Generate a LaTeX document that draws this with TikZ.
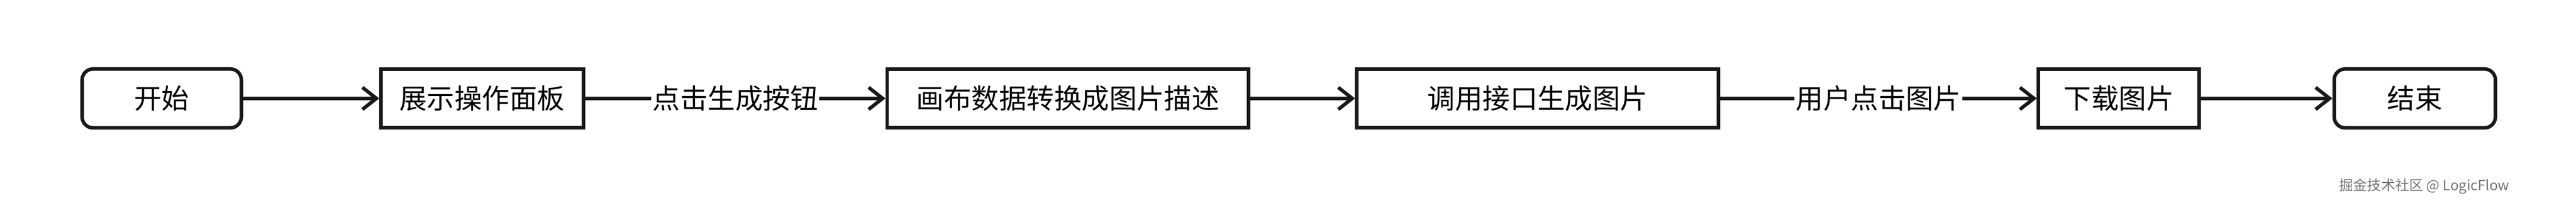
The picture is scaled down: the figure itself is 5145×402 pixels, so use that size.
\documentclass[tikz,border=0pt]{standalone}
\usepackage{fontspec}
\setmainfont{Noto Sans CJK SC}
\usetikzlibrary{arrows.meta}
\begin{document}
\begin{tikzpicture}[x=1pt,y=-1pt,
  box/.style={draw=black!90,line width=7pt,minimum height=118pt,font=\fontsize{55}{62}\selectfont,inner sep=0pt,fill=white},
  rbox/.style={box,rounded corners=22pt},
  arr/.style={draw=black!90,line width=7pt,-{Straight Barb[length=28pt,width=44pt,line width=7pt]}},
  lbl/.style={font=\fontsize{55}{62}\selectfont,fill=white,inner sep=3pt}]
\useasboundingbox (0,0) rectangle (5145,402);
\node[rbox,minimum width=318pt] (s) at (323,197) {开始};
\node[box,minimum width=404pt] (a) at (963,197) {展示操作面板};
\node[box,minimum width=722pt] (b) at (2133,197) {画布数据转换成图片描述};
\node[box,minimum width=722pt] (c) at (3071,197) {调用接口生成图片};
\node[box,minimum width=321pt] (d) at (4232,197) {下载图片};
\node[rbox,minimum width=322pt] (e) at (4823,197) {结束};
\draw[arr] (s) -- (a);
\draw[arr] (a) -- node[lbl]{点击生成按钮} (b);
\draw[arr] (b) -- (c);
\draw[arr] (c) -- node[lbl]{用户点击图片} (d);
\draw[arr] (d) -- (e);
\node[anchor=east,text=black!55,font=\fontsize{28}{33}\selectfont] (w) at (5015,373) {掘金技术社区 @ LogicFlow};
\end{tikzpicture}
\end{document}
